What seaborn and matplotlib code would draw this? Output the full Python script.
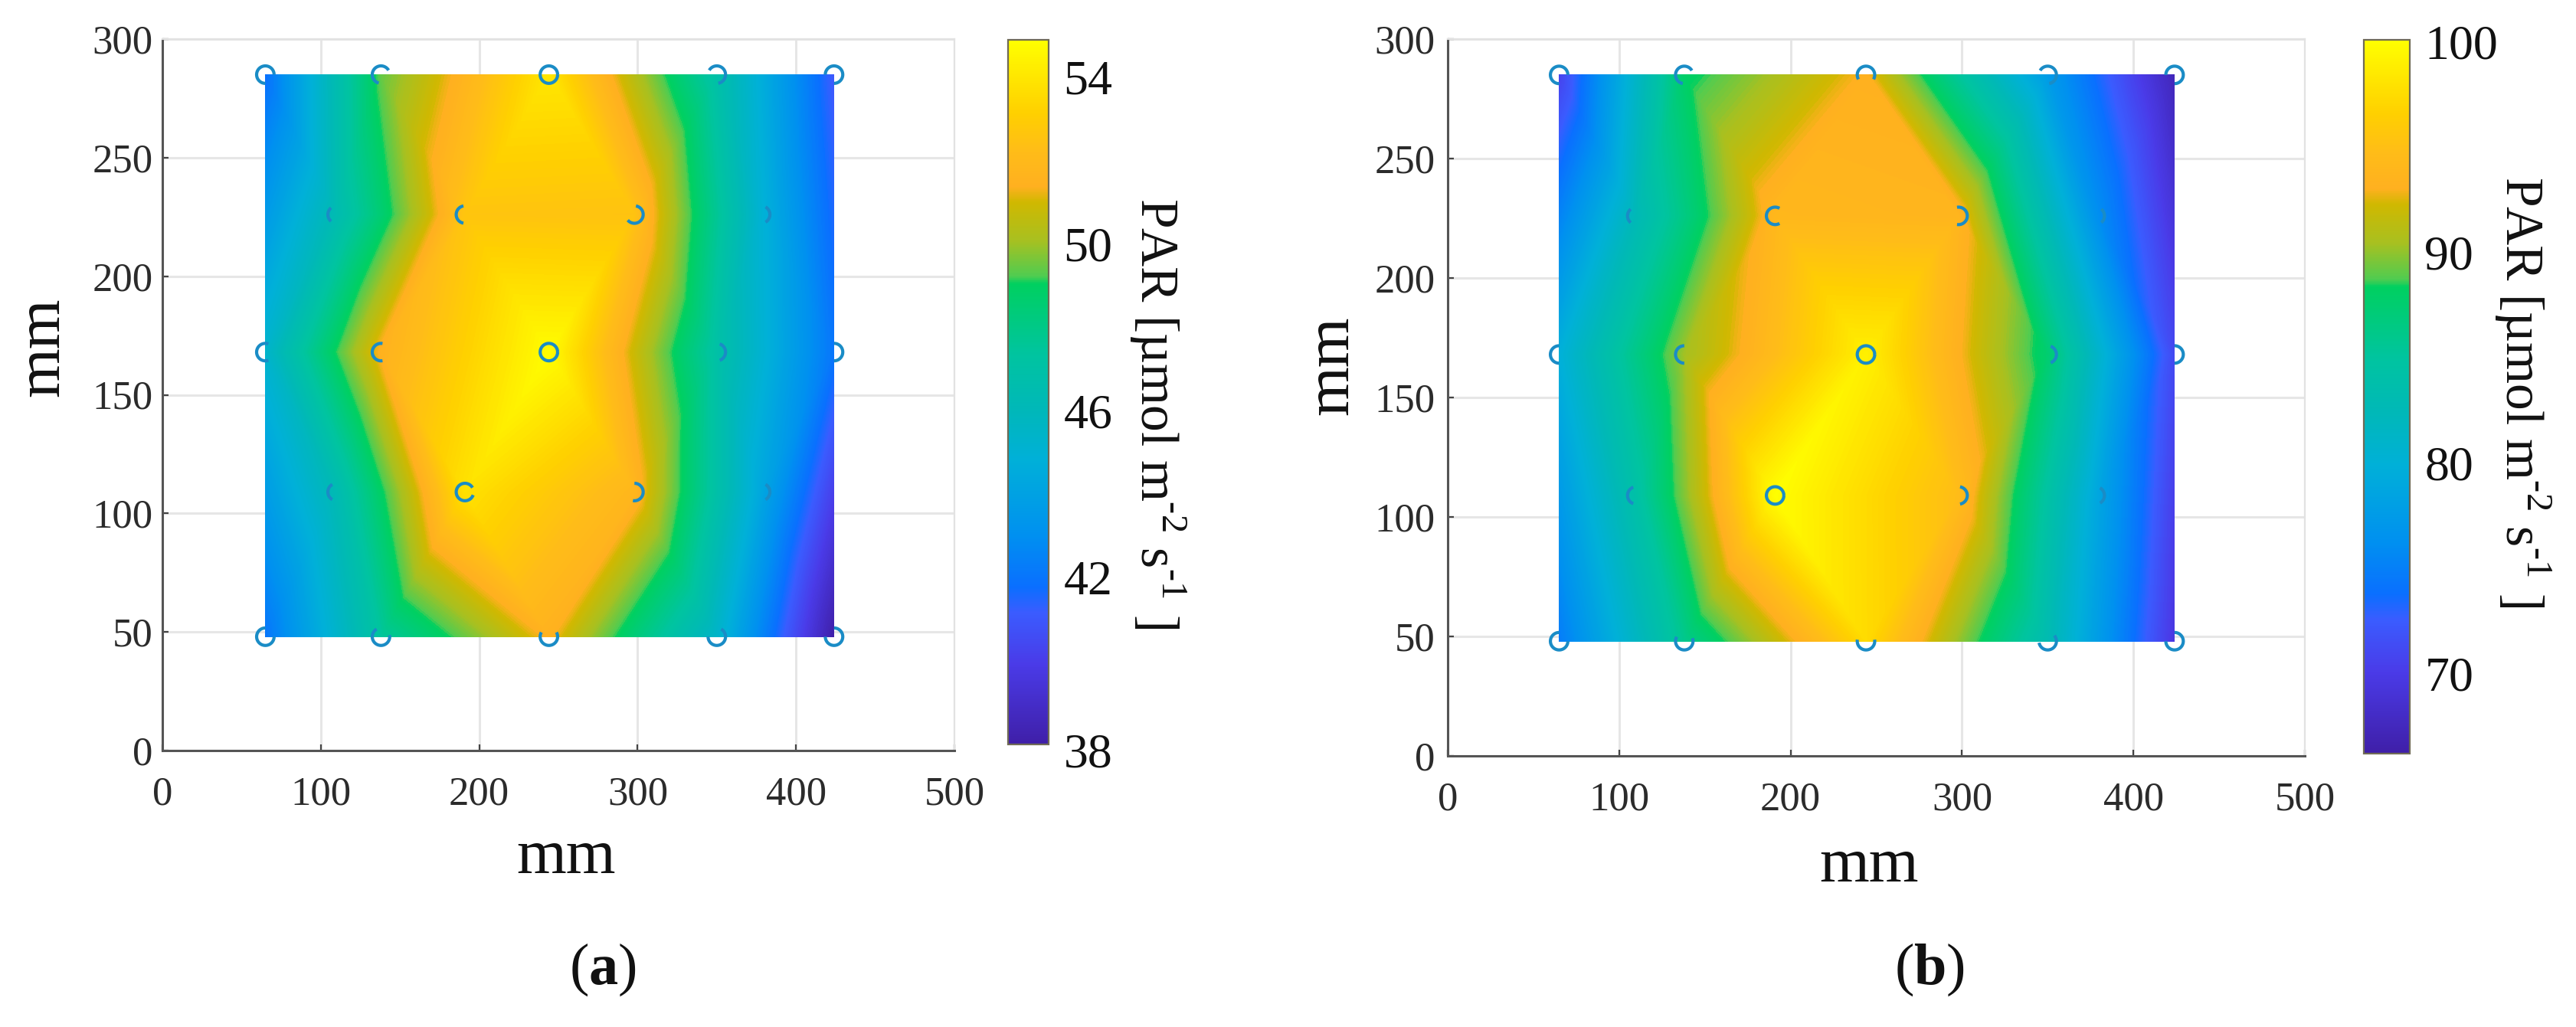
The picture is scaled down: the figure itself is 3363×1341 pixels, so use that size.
import numpy as np
import pandas as pd
import matplotlib
matplotlib.use("Agg")
import matplotlib.pyplot as plt
import seaborn as sns
from matplotlib.cm import ScalarMappable
from matplotlib.colors import LinearSegmentedColormap, Normalize
from matplotlib.path import Path
from matplotlib.transforms import ScaledTranslation

# --- sensor positions (mm) ---
sensor_x = [65, 138, 244, 350, 424,
            110, 191, 298, 378,
            65, 138, 244, 350, 424,
            110, 191, 298, 378,
            65, 138, 244, 350, 424]
sensor_y = [285, 285, 285, 285, 285,
            226, 226, 226, 226,
            168, 168, 168, 168, 168,
            109, 109, 109, 109,
            48, 48, 48, 48, 48]

# --- PAR read at each sensor ---
par_a = [41.8, 49.4, 54.0, 46.9, 41.0,
         46.4, 52.6, 52.5, 45.0,
         45.3, 51.5, 54.8, 47.0, 42.0,
         46.3, 53.8, 51.8, 44.3,
         42.0, 47.4, 51.5, 45.4, 38.0]
par_b = [70.6, 87.9, 93.2, 77.5, 67.2,
         82.5, 94.0, 93.7, 76.4,
         79.8, 90.3, 99.0, 87.5, 71.0,
         84.2, 100.0, 94.7, 79.0,
         74.7, 85.9, 97.4, 83.0, 69.5]

# --- colourbar tick labels and tick marks ---
cbar_labels_a = [38, 42, 46, 50, 54]
cbar_marks_a = [39.1, 40.9, 42.8, 44.7, 46.55, 48.4, 50.25, 52.1, 54.0]
cbar_labels_b = [70, 80, 90, 100]
cbar_marks_b = [67.8, 72.6, 77.5, 82.4, 87.2, 92.1, 97.0]

# which part of each circle is left showing above the surface (degrees)
arcs_a = [(0, 270), (30, 255), (0, 360), (-80, 150), (-90, 180),
          (130, 230), (100, 260), (-140, 80), (-60, 60),
          (70, 290), (80, 280), (0, 360), (-70, 70), (-90, 90),
          (120, 240), (30, 340), (-100, 90), (-60, 60),
          (90, 360), (120, 370), (150, 390), (180, 420), (180, 450)]
arcs_b = [(0, 270), (30, 260), (-30, 210), (-80, 150), (-90, 180),
          (130, 230), (60, 300), (-100, 100), (-50, 50),
          (90, 270), (90, 270), (0, 360), (-70, 70), (-90, 90),
          (110, 250), (0, 360), (-80, 80), (-60, 60),
          (90, 360), (150, 380), (170, 370), (190, 400), (180, 450)]

W, H = 3363, 1341
DPI = 100

sns.set_theme(style="whitegrid")
plt.rcParams['font.family'] = ['Liberation Serif', 'DejaVu Serif']
plt.rcParams['mathtext.fontset'] = 'custom'
plt.rcParams['mathtext.rm'] = 'Liberation Serif'
plt.rcParams['mathtext.bf'] = 'Liberation Serif:bold'

parula_ish = LinearSegmentedColormap.from_list("par", [
    (0.0, "#3f1fa8"), (0.114, "#4a3be8"), (0.187, "#3a5cff"), (0.223, "#0a6fff"),
    (0.296, "#0090f0"), (0.404, "#00b0d8"), (0.477, "#00b8b8"), (0.553, "#00c4a0"),
    (0.654, "#00d060"), (0.665, "#50cc50"), (0.716, "#a8c020"), (0.77, "#d0b800"),
    (0.792, "#ffb020"), (0.842, "#ffbc18"), (0.897, "#ffd000"), (0.951, "#ffe800"),
    (1.0, "#ffff00")], N=512)


def px_axes(fig, left, top, right, bottom):
    return fig.add_axes([left / W, 1 - bottom / H, (right - left) / W, (bottom - top) / H])


def arc_marker(start, end):
    theta = np.radians(np.linspace(start, end, 40))
    verts = [(1, 1)] + list(zip(np.cos(theta), np.sin(theta)))
    codes = [Path.MOVETO, Path.MOVETO] + [Path.LINETO] * (len(theta) - 1)
    return Path(verts, codes)


def draw_panel(fig, box, cbox, values, arcs, vmin, vmax, labels, marks, ypad):
    df = pd.DataFrame({'x': sensor_x, 'y': sensor_y, 'par': values})

    ax = px_axes(fig, *box)
    ax.tricontourf(df['x'], df['y'], df['par'], levels=np.linspace(vmin, vmax, 200),
                   cmap=parula_ish, vmin=vmin, vmax=vmax, extend='both', zorder=2)

    for i, row in df.iterrows():
        sns.scatterplot(x=[row['x']], y=[row['y']], ax=ax, marker=arc_marker(*arcs[i]),
                        s=270, facecolor='none', edgecolor='#1a8cc6', linewidth=3,
                        legend=False, zorder=3, clip_on=False)

    ax.set_xlim(0, 500)
    ax.set_ylim(0, 300)
    ax.set_xticks(range(0, 501, 100))
    ax.set_yticks(range(0, 301, 50))
    ax.grid(True, color='#e6e6e6', linewidth=2.2, zorder=0)
    ax.set_axisbelow(True)
    ax.set_xlabel('')
    ax.set_ylabel('')
    ax.tick_params(axis='both', labelsize=38, labelcolor='#2b2b2b', length=6, width=1.6,
                   direction='in', color='#444444', bottom=True, left=True)
    ax.tick_params(axis='x', pad=24)
    ax.tick_params(axis='y', pad=ypad)
    for side in ['left', 'bottom']:
        ax.spines[side].set_color('#555555')
        ax.spines[side].set_linewidth(2.2)
    for side in ['top', 'right']:
        ax.spines[side].set_color('#e2e2e2')
        ax.spines[side].set_linewidth(1.6)

    cax = px_axes(fig, *cbox)
    cbar = fig.colorbar(ScalarMappable(norm=Normalize(vmin, vmax), cmap=parula_ish), cax=cax)
    cbar.set_ticks(labels)
    cbar.set_ticks(marks, minor=True)
    cax.grid(False)
    cax.tick_params(axis='y', which='major', length=0, labelsize=46, labelcolor='#111111', pad=14)
    cax.tick_params(axis='y', which='minor', length=6, width=1.6, direction='in',
                    color='#333333', right=True, left=False)
    cbar.outline.set_edgecolor('#6f6a55')
    cbar.outline.set_linewidth(1.6)
    return ax, cax


fig = plt.figure(figsize=(W / DPI, H / DPI), dpi=DPI, facecolor='white')

ax_a, cax_a = draw_panel(fig, (212, 51, 1246, 980), (1316, 52, 1369, 972), par_a, arcs_a,
                         38.0, 54.9, cbar_labels_a, cbar_marks_a, 9)
ax_b, cax_b = draw_panel(fig, (1890, 51, 3009, 987), (3086, 52, 3146, 984), par_b, arcs_b,
                         66.2, 100.1, cbar_labels_b, cbar_marks_b, 12)

# the 38 label sits a little under the end of the bar
fig.canvas.draw()
lab38 = cax_a.get_yticklabels()[0]
lab38.set_transform(lab38.get_transform() + ScaledTranslation(0, -8 / DPI, fig.dpi_scale_trans))


def put(x, y, s, size, rotation=0, color='#111111'):
    fig.text(x / W, 1 - y / H, s, fontsize=size, rotation=rotation, ha='center', va='center', color=color)


par_label = 'PAR [µmol m$^{\u20102}$ s$^{\u20101}$ ]'
put(739, 1120, 'mm', 60)
put(56, 453, 'mm', 60, rotation=90)
put(1511, 540, par_label, 50, rotation=270)
put(787, 1266, r'($\mathbf{a}$)', 55)

put(2440, 1131, 'mm', 60)
put(1739, 477, 'mm', 60, rotation=90)
put(3293, 512, par_label, 50, rotation=270)
put(2519, 1266, r'($\mathbf{b}$)', 55)

plt.savefig('out.png', dpi=DPI)
plt.close()
